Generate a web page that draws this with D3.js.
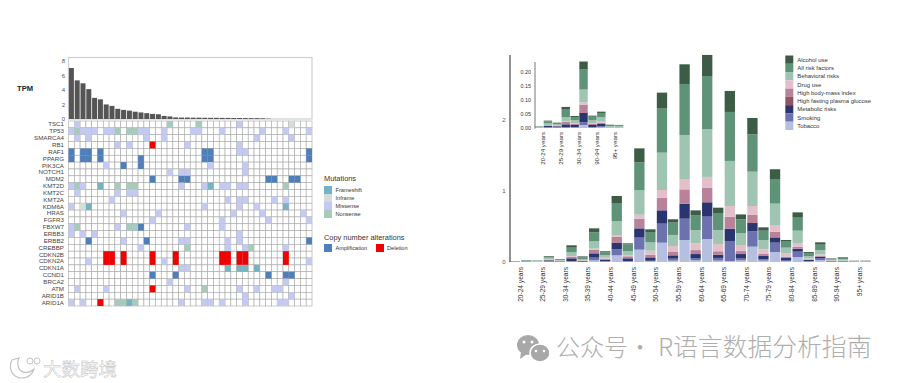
<!DOCTYPE html>
<html>
<head>
<meta charset="utf-8">
<script src="https://cdn.jsdelivr.net/npm/d3@7"></script>
<style>
  body { margin: 0; background: #fff; }
  svg { display: block; }
  text { font-family: "Liberation Sans", Arial, sans-serif; }
</style>
</head>
<body>
<div class="container_main"></div>
<script>
// left panel data
const genes = ["TSC1","TP53","SMARCA4","RB1","RAF1","PPARG","PIK3CA","NOTCH1","MDM2","KMT2D","KMT2C","KMT2A","KDM6A","HRAS","FGFR3","FBXW7","ERBB3","ERBB2","CREBBP","CDKN2B","CDKN2A","CDKN1A","CCND1","BRCA2","ATM","ARID1B","ARID1A"];
const tpm = [7.0,5.3,4.9,4.1,2.9,2.7,2.0,1.8,1.4,1.25,1.15,1.0,0.9,0.8,0.7,0.65,0.42,0.35,0.22,0.2,0.2,0.18,0.18,0.17,0.16,0.16,0.15,0.15,0.14,0.14,0.13,0.12,0.12,0.1,0.04,0,0,0,0,0,0,0];
// one string per gene: letter = alteration, number = sample column
const calls = [
  "m1 n17 n22 m29 i38",
  "m0 n1 m2 m3 m4 m6 m7 n8 n10 n11 m12 m13 m16 m21 m22 m26 m33 m37 m41",
  "m1 m3 m13 m16 m32 m38",
  "m8 m10 d14 m20 m29",
  "a0 a2 a3 a5 a23 a24 m29 m30 a41",
  "a0 a2 a3 a5 a12 a23 a24 a41",
  "m6 a9 a12 m24 m30",
  "m17 m19 m20 m30",
  "a14 a19 a20 a34 a35 a38 a39",
  "m0 n1 m2 f5 n8 n10 n11 m19 m23 f24 m26 m27 m29 m30 n37",
  "m1 m8 m10 m11",
  "m7 m27 m29 m30 m35 m37",
  "m0 i2 f3 m23 m29 m32 f37",
  "m9 m15 m28 m33 m40",
  "m14 m26 m34 m41",
  "m0 n1 m8 n10 n11 a12 m20 m26",
  "m0 m2 m4 m29",
  "a3 m9 a13 m19 m20 m27 m29 a41",
  "m12 n20 m27 m30 n31 m37",
  "d6 d7 d9 d14 d18 d26 d27 d29 d30 d37",
  "m3 d6 d7 d9 d14 m16 d18 d26 d27 d29 d30 d37 m41",
  "m19 m20 f27 f29 f30 f32",
  "a14 a18 a34 a37 a38",
  "m17 m37",
  "m1 m6 d14 m20 n23 m29 m32 m35 m36",
  "m30 m38",
  "m0 m2 d5 n8 n9 f10 n11 m19 m23 m24 m26 m30 m36 m37"
];
const mutationNames = ["Frameshift","Inframe","Missense","Nonsense"];
const mutationKeys = ["f","i","m","n"];
const cnaNames = ["Amplification","Deletion"];

// right panel data
const ageGroups = ["20-24 years","25-29 years","30-34 years","35-39 years","40-44 years","45-49 years","50-54 years","55-59 years","60-64 years","65-69 years","70-74 years","75-79 years","80-84 years","85-89 years","90-94 years","95+ years"];
const sexes = ["a","b"];
const riskNames = ["Alcohol use","All risk factors","Behavioral risks","Drug use","High body-mass index","High fasting plasma glucose","Metabolic risks","Smoking","Tobacco"];
const riskColors = ["#3d5c45","#5f9378","#9fc5b2","#e3bfca","#b98299","#8f5566","#2a3570","#6b72ae","#b5bfe0"];
const tobacco = [0,.002,.001,.005,.002,.005,.002,.023,.005,.094,.005,.174,.009,.272,.019,.31,.023,.324,.019,.014,.023,.216,.019,.141,.014,.07,.005,.028,.005,.002,0,0];
const smoking = [0,.002,.001,.005,.002,.009,.002,.038,.005,.085,.009,.169,.009,.268,.028,.3,.033,.315,.038,.282,.033,.216,.019,.131,.014,.075,.009,.028,.005,.005,0,0];
const metabolic = [0,.005,.002,.014,.005,.038,.009,.061,.023,.089,.038,.131,.047,.188,.047,.211,.056,.202,.047,.174,.056,.117,.047,.075,.028,.042,.014,.019,.005,.005,.001,.001];
const glucose = [0,0,0,0,0,0,0,0,0,0,0,0,0,0,0,0,0,0,0,0,0,0,0,0,0,0,0,0,0,0,0,0];
const bmi = [0,.002,.002,.009,.005,.023,.005,.052,.014,.089,.028,.136,.038,.178,.047,.202,.056,.202,.047,.169,.042,.117,.028,.08,.019,.028,.009,.014,.005,.002,.001,.001];
const drug = [0,.002,.002,.009,.005,.009,.005,.014,.014,.023,.014,.056,.056,.108,.085,.146,.094,.155,.103,.15,.085,.122,.066,.085,.047,.052,.014,.019,.005,.005,.001,.001];
const behavioral = [.007,.005,.007,.019,.009,.052,.019,.103,.038,.197,.061,.343,.117,.526,.155,.62,.188,.671,.197,.634,.164,.484,.131,.31,.08,.174,.033,.061,.009,.019,.006,.006];
const allRisk = [.005,.007,.005,.014,.012,.066,.023,.127,.038,.254,.094,.394,.146,.62,.174,.718,.211,.742,.239,.69,.197,.526,.131,.338,.085,.183,.042,.075,.014,.019,.007,.007];
const alcohol = [.002,.002,.002,.009,.002,.033,.014,.056,.014,.099,.014,.197,.038,.225,.047,.277,.066,.305,.075,.296,.07,.23,.047,.146,.023,.075,.014,.033,.005,.009,.003,.003];

// inset data
const insetGroups = ["20-24 years","25-29 years","30-34 years","90-94 years","95+ years"];
const insetTobacco = [.0001,.0012,.0012,.0012,.0012,.0107,.0012,.0024,.0004,.0004];
const insetSmoking = [.0001,.0012,.0012,.0012,.0024,.0095,.0024,.0036,.0002,.0002];
const insetMetabolic = [.0004,.0047,.0036,.0107,.0071,.0332,.0071,.0083,.0006,.0006];
const insetGlucose = [0,0,0,0,0,0,0,0,0,0];
const insetBmi = [.0004,.0024,.0012,.0095,.0047,.0297,.0047,.0047,.0006,.0006];
const insetDrug = [.0002,.0012,.0012,.0024,.0024,.0083,.0024,.0036,.0006,.0006];
const insetBehavioral = [.0021,.0059,.0047,.013,.0095,.0451,.0095,.0154,.0042,.0036];
const insetAllRisk = [.002,.0071,.0047,.0273,.0119,.0712,.013,.0154,.0047,.0042];
const insetAlcohol = [.0006,.0024,.0012,.0095,.0036,.0285,.0036,.0047,.0006,.0006];

const svg = d3.select(".container_main").append("svg")
    .attr("width", 900)
    .attr("height", 383);

// ---- oncoprint ----
const left = 68.5, right = 312;
const sampleIdx = d3.range(tpm.length);
const posX = d3.scaleBand().domain(sampleIdx).range([left, right]);
const posY = d3.scaleLinear().domain([0, 8]).range([119, 60.7]);
const rowY = d3.scaleBand().domain(genes).range([121, 306]);

svg.append("rect")
    .attr("x", left).attr("y", 57.5)
    .attr("width", right - left).attr("height", 61.5)
    .attr("fill", "none").attr("stroke", "#cfcfcf").attr("stroke-width", 1.2);

svg.selectAll(".tpmbar").data(tpm).enter().append("rect")
    .attr("class", "tpmbar")
    .attr("x", (d, i) => posX(i) + 0.4)
    .attr("width", posX.bandwidth() - 0.8)
    .attr("y", d => posY(d))
    .attr("height", d => posY(0) - posY(d))
    .attr("fill", "#555");

const tpmAxis = svg.append("g").attr("transform", "translate(" + left + ",0)")
    .call(d3.axisLeft(posY).tickValues([0, 2, 4, 6, 8]).tickSize(0).tickPadding(3.5));
tpmAxis.select(".domain").remove();
tpmAxis.selectAll("text").attr("font-size", 6).attr("fill", "#555").style("font-family", "Liberation Sans");

svg.append("text").attr("x", 17).attr("y", 91)
    .attr("font-size", 7.6).attr("font-weight", "bold").attr("fill", "#222").text("TPM");

// white grid under the coloured cells
const grid = svg.append("g");
genes.forEach(function(g) {
    grid.selectAll(".c" + g).data(sampleIdx).enter().append("rect")
        .attr("x", d => posX(d))
        .attr("y", rowY(g))
        .attr("width", posX.bandwidth())
        .attr("height", rowY.bandwidth())
        .attr("fill", "#fff")
        .attr("stroke", "#a8a8a8")
        .attr("stroke-width", 0.6);
});

const callColor = {f: "#74b3c2", i: "#d3dcd8", m: "#c3c9f0", n: "#a7cabb", a: "#4f7fba", d: "#f00000"};
const cells = [];
calls.forEach(function(s, r) {
    s.split(" ").forEach(function(c) {
        cells.push({gene: genes[r], kind: c[0], sample: +c.slice(1)});
    });
});
svg.selectAll(".cell").data(cells).enter().append("rect")
    .attr("class", "cell")
    .attr("x", d => posX(d.sample))
    .attr("y", d => rowY(d.gene))
    .attr("width", posX.bandwidth())
    .attr("height", rowY.bandwidth())
    .attr("fill", d => callColor[d.kind]);

const geneAxis = svg.append("g").attr("transform", "translate(" + left + ",0)")
    .call(d3.axisLeft(rowY).tickSize(0).tickPadding(4.5));
geneAxis.select(".domain").remove();
geneAxis.selectAll("text").attr("font-size", 6.2).attr("fill", "#444").style("font-family", "Liberation Sans");

// oncoprint legends
svg.append("text").attr("x", 324).attr("y", 180.5).attr("font-size", 7.4).attr("fill", "#333").text("Mutations");
const mutLeg = d3.scaleBand().domain(mutationNames).range([186, 218]);
svg.selectAll(".mutleg").data(mutationNames).enter().append("rect")
    .attr("class", "mutleg")
    .attr("x", 324).attr("y", d => mutLeg(d))
    .attr("width", 8).attr("height", mutLeg.bandwidth())
    .attr("fill", (d, i) => callColor[mutationKeys[i]]);
svg.selectAll(".mutlab").data(mutationNames).enter().append("text")
    .attr("class", "mutlab")
    .attr("x", 335.5).attr("y", d => mutLeg(d) + 6)
    .attr("font-size", 5.6).attr("fill", "#333").text(d => d);

svg.append("text").attr("x", 324).attr("y", 239.5).attr("font-size", 7.4).attr("fill", "#333").text("Copy number alterations");
svg.append("rect").attr("x", 324).attr("y", 244).attr("width", 8).attr("height", 8).attr("fill", callColor.a);
svg.append("text").attr("x", 335.5).attr("y", 250.2).attr("font-size", 5.6).attr("fill", "#333").text(cnaNames[0]);
svg.append("rect").attr("x", 376).attr("y", 244).attr("width", 8).attr("height", 8).attr("fill", callColor.d);
svg.append("text").attr("x", 387).attr("y", 250.2).attr("font-size", 5.6).attr("fill", "#333").text(cnaNames[1]);

// ---- stacked bars ----
// turns the flat series lists into rows the stack can read, bottom segment first
const makeStack = function(series, groups) {
    const stackKeys = ["tobacco","smoking","metabolic","glucose","bmi","drug","behavioral","allRisk","alcohol"];
    const rows = [];
    groups.forEach(function(g, gi) {
        sexes.forEach(function(s, si) {
            const row = {group: g, sex: s};
            stackKeys.forEach(function(k, ki) { row[k] = series[ki][gi * 2 + si]; });
            rows.push(row);
        });
    });
    return {rows: rows, layers: d3.stack().keys(stackKeys)(rows)};
};

const drawStack = function(g, data, x0, x1, y) {
    const colors = riskColors.slice().reverse();
    g.selectAll(".layer").data(data.layers).enter().append("g")
        .attr("class", "layer")
        .attr("fill", (d, i) => colors[i])
      .selectAll("rect").data(d => d).enter().append("rect")
        .attr("x", d => x0(d.data.group) + x1(d.data.sex))
        .attr("width", x1.bandwidth())
        .attr("y", d => y(d[1]))
        .attr("height", d => y(d[0]) - y(d[1]));
};

const mainStack = makeStack([tobacco,smoking,metabolic,glucose,bmi,drug,behavioral,allRisk,alcohol], ageGroups);
const mainX0 = d3.scaleBand().domain(ageGroups).range([509.2, 871]);
const mainX1 = d3.scaleBand().domain(sexes).range([0, mainX0.bandwidth()]).paddingInner(0.11).paddingOuter(0.03);
const mainY = d3.scaleLinear().domain([0, 2.915]).range([262, 55]);
drawStack(svg.append("g"), mainStack, mainX0, mainX1, mainY);

svg.append("line").attr("x1", 510).attr("x2", 510).attr("y1", 55).attr("y2", 262)
    .attr("stroke", "#555").attr("stroke-width", 1.3);

const mainYAxis = svg.append("g").attr("transform", "translate(510,0)")
    .call(d3.axisLeft(mainY).tickValues([0, 1, 2]).tickFormat(d3.format("d")).tickSize(0).tickPadding(4.5));
mainYAxis.select(".domain").remove();
mainYAxis.selectAll("text").attr("font-size", 6).attr("fill", "#555").style("font-family", "Liberation Sans");

const mainXAxis = svg.append("g").attr("transform", "translate(0,262)")
    .call(d3.axisBottom(mainX0).tickSize(0));
mainXAxis.select(".domain").remove();
mainXAxis.selectAll("text")
    .attr("transform", "rotate(-90)")
    .attr("text-anchor", "end")
    .attr("x", -5).attr("y", 0).attr("dy", "0.32em")
    .attr("font-size", 6.6).attr("fill", "#333").style("font-family", "Liberation Sans");

// inset
const insetStack = makeStack([insetTobacco,insetSmoking,insetMetabolic,insetGlucose,insetBmi,insetDrug,insetBehavioral,insetAllRisk,insetAlcohol], insetGroups);
const insetX0 = d3.scaleBand().domain(insetGroups).range([534.6, 623.6]);
const insetX1 = d3.scaleBand().domain(sexes).range([0, insetX0.bandwidth()]).paddingInner(0.05).paddingOuter(0.03);
const insetY = d3.scaleLinear().domain([0, 0.2]).range([128, 71.7]);
drawStack(svg.append("g"), insetStack, insetX0, insetX1, insetY);

svg.append("line").attr("x1", 535).attr("x2", 535).attr("y1", 62).attr("y2", 128.5)
    .attr("stroke", "#777").attr("stroke-width", 1);

const insetYAxis = svg.append("g").attr("transform", "translate(535,0)")
    .call(d3.axisLeft(insetY).tickValues([0, .05, .1, .15, .2]).tickFormat(d3.format(".2f")).tickSize(0).tickPadding(4));
insetYAxis.select(".domain").remove();
insetYAxis.selectAll("text").attr("font-size", 5.4).attr("fill", "#333").style("font-family", "Liberation Sans");

const insetXAxis = svg.append("g").attr("transform", "translate(0,128)")
    .call(d3.axisBottom(insetX0).tickSize(0));
insetXAxis.select(".domain").remove();
insetXAxis.selectAll("text")
    .attr("transform", "rotate(-90)")
    .attr("text-anchor", "end")
    .attr("x", -4).attr("y", 0).attr("dy", "0.32em")
    .attr("font-size", 6.2).attr("fill", "#333").style("font-family", "Liberation Sans");

// risk legend
const legY = d3.scaleBand().domain(riskNames).range([55.5, 130]);
svg.selectAll(".riskleg").data(riskNames).enter().append("rect")
    .attr("class", "riskleg")
    .attr("x", 785.3).attr("y", d => legY(d))
    .attr("width", 8).attr("height", legY.bandwidth())
    .attr("fill", (d, i) => riskColors[i]);
svg.selectAll(".risklab").data(riskNames).enter().append("text")
    .attr("class", "risklab")
    .attr("x", 797.3).attr("y", d => legY(d) + 6.2)
    .attr("font-size", 5.9).attr("fill", "#333").text(d => d);

// ---- watermarks ----
const wm = svg.append("g");
wm.append("ellipse").attr("cx", 528).attr("cy", 345).attr("rx", 11).attr("ry", 10).attr("fill", "#a8a8a8");
wm.append("path").attr("d", "M521 352 L520 359 L527 354 Z").attr("fill", "#a8a8a8");
wm.append("ellipse").attr("cx", 540).attr("cy", 353).attr("rx", 10).attr("ry", 9).attr("fill", "#a8a8a8").attr("stroke", "#fff").attr("stroke-width", 1.5);
wm.append("circle").attr("cx", 524).attr("cy", 342).attr("r", 1.5).attr("fill", "#fff");
wm.append("circle").attr("cx", 532).attr("cy", 342).attr("r", 1.5).attr("fill", "#fff");
wm.append("circle").attr("cx", 536).attr("cy", 351).attr("r", 1.3).attr("fill", "#fff");
wm.append("circle").attr("cx", 544).attr("cy", 351).attr("r", 1.3).attr("fill", "#fff");
const wmFont = "'Noto Sans CJK SC'";
wm.append("text").attr("x", 556).attr("y", 356)
    .attr("font-size", 24).attr("font-weight", 300).attr("fill", "#aeaeae")
    .style("font-family", wmFont).text("公众号");
wm.append("text").attr("x", 628).attr("y", 356)
    .attr("font-size", 24).attr("font-weight", 300).attr("fill", "#aeaeae")
    .style("font-family", wmFont).text("·");
wm.append("text").attr("x", 658).attr("y", 356)
    .attr("font-size", 24.8).attr("font-weight", 300).attr("fill", "#aeaeae")
    .style("font-family", wmFont).text("R语言数据分析指南");

wm.append("path").attr("d", "M12 360 C8 368 12 378 22 378 C29 378 33 373 34 369 C29 374 20 374 18 366 C17 362 18 360 19 358 Z")
    .attr("fill", "#fff").attr("stroke", "#c4c4c4").attr("stroke-width", 1.2);
wm.append("circle").attr("cx", 30).attr("cy", 361).attr("r", 3).attr("fill", "#fff").attr("stroke", "#c4c4c4");
wm.append("circle").attr("cx", 37).attr("cy", 361).attr("r", 3).attr("fill", "#fff").attr("stroke", "#c4c4c4");
wm.append("text").attr("x", 43).attr("y", 376)
    .attr("font-size", 18.5).attr("fill", "#fff").attr("stroke", "#c2c2c2").attr("stroke-width", 0.5)
    .style("font-family", wmFont)
    .text("大数跨境");
</script>
</body>
</html>
